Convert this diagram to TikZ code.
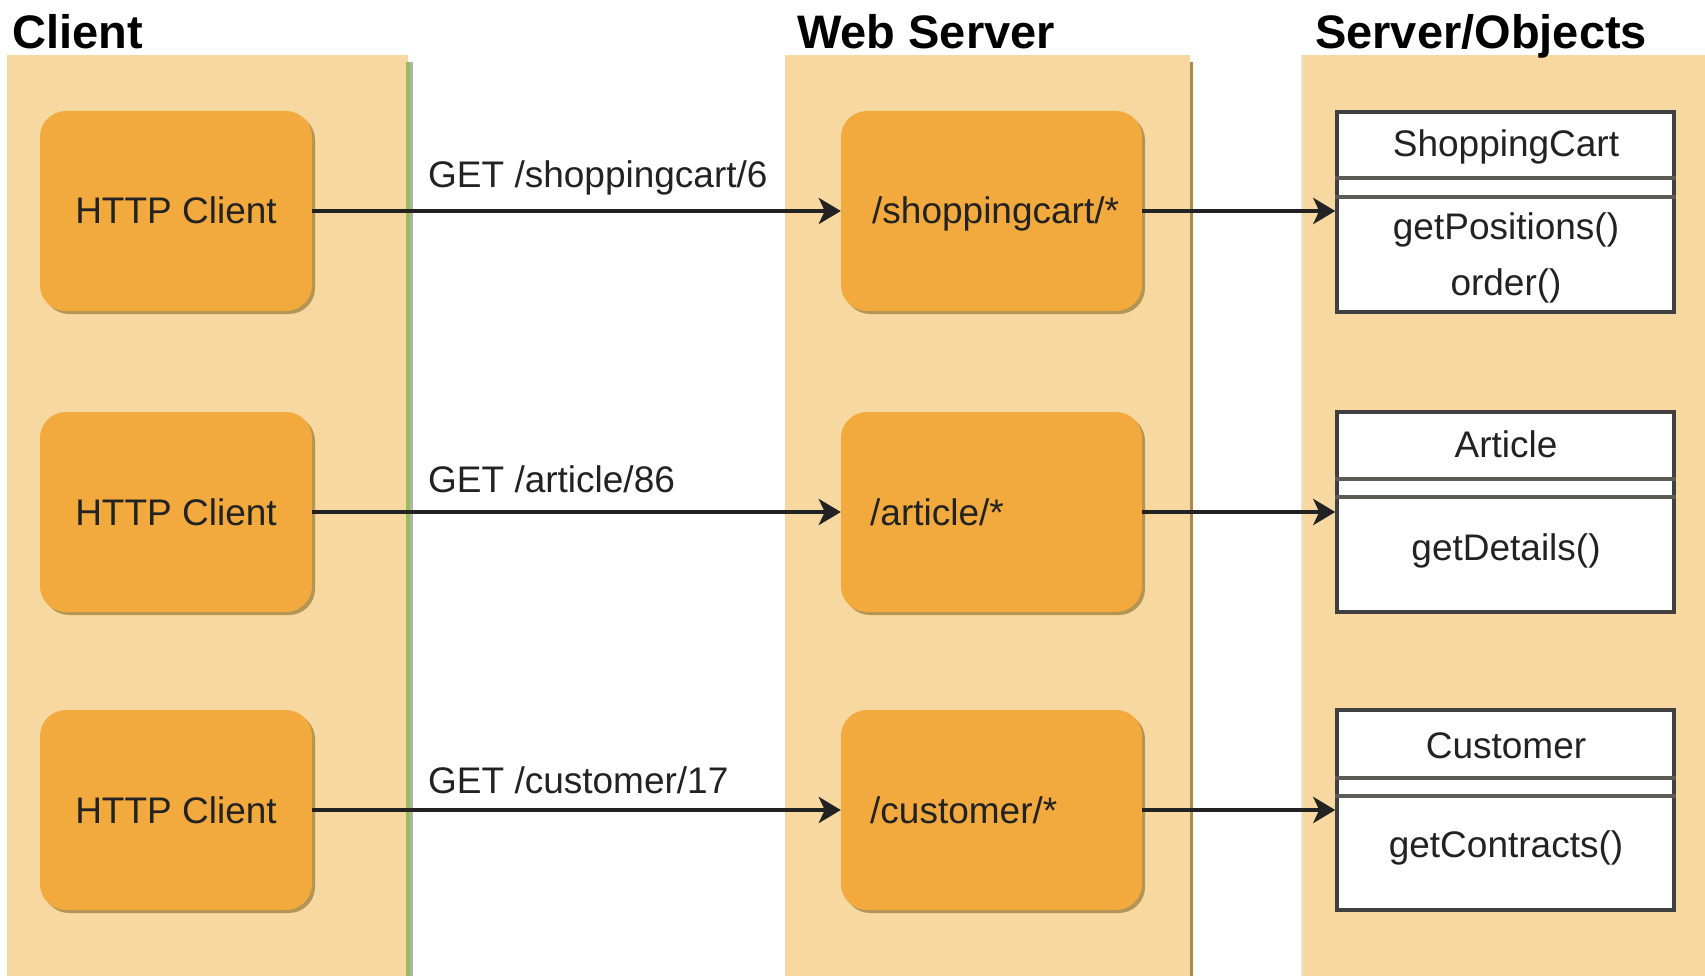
\documentclass[tikz,border=0pt]{standalone}
\usepackage{fontspec}
\setmainfont{Liberation Sans}
\usetikzlibrary{arrows.meta,shadows}
\definecolor{panel}{HTML}{F7D8A0}
\definecolor{boxc}{HTML}{F2AA3E}
\definecolor{shad}{HTML}{A88A4A}
\definecolor{ink}{HTML}{222222}
\definecolor{lanegreen}{HTML}{9BBB59}
\definecolor{classline}{HTML}{404040}
\definecolor{sepline}{HTML}{5E5A55}
\begin{document}
\begin{tikzpicture}[x=1pt,y=-1pt,
  lane/.style={rectangle, fill=panel, inner sep=0pt, minimum height=921pt},
  procbox/.style={rectangle, rounded corners=26pt, fill=boxc, inner sep=0pt, minimum height=200pt,
    drop shadow={shadow xshift=3pt, shadow yshift=-3pt, fill=shad, opacity=0.85}},
  classbox/.style={rectangle, fill=white, draw=classline, line width=3.5pt, inner sep=0pt,
    minimum width=337pt, minimum height=200pt,
    drop shadow={shadow xshift=2pt, shadow yshift=-2pt, fill=shad, opacity=0.7}},
  txt/.style={font=\fontsize{37}{40}\selectfont, text=ink, inner sep=0pt},
  ttl/.style={font=\fontsize{47}{52}\selectfont\bfseries, text=black, inner sep=0pt, anchor=base west},
  conn/.style={draw=ink, line width=4pt, -{Stealth[length=22pt,width=26pt,inset=6pt]}},
  sep/.style={draw=sepline, line width=3.5pt}
]
\useasboundingbox (0,0) rectangle (1705,976);
\fill[white] (0,0) rectangle (1705,976);

% lanes
\node[lane, minimum width=401pt] (clientlane) at (207.5,515.5) {};
\node[lane, minimum width=405pt] (weblane) at (987.5,515.5) {};
\node[lane, minimum width=403pt] (srvlane) at (1503.5,515.5) {};
\draw[black!30, line width=3pt] ([xshift=3.5pt,yshift=-7pt]clientlane.north east) -- ([xshift=3.5pt]clientlane.south east);
\draw[lanegreen, line width=3.5pt] ([yshift=-7pt]clientlane.north east) -- (clientlane.south east);
\draw[shad, line width=3.5pt] ([xshift=1.5pt,yshift=-7pt]weblane.north east) -- ([xshift=1.5pt]weblane.south east);
\draw[panel!60!gray!40, line width=1.5pt] (srvlane.north west) -- (srvlane.south west);

% titles
\node[ttl] (tclient) at (12,49) {Client};
\node[ttl] (tweb) at (797,49) {Web Server};
\node[ttl] (tsrv) at (1315,49) {Server/Objects};

% HTTP clients
\node[procbox, minimum width=272pt] (hc1) at (176,211) {};
\node[procbox, minimum width=272pt] (hc2) at (176,512) {};
\node[procbox, minimum width=272pt] (hc3) at (176,810) {};
\node[txt, anchor=base] (hct1) at (176,224) {HTTP Client};
\node[txt, anchor=base] (hct2) at (176,525) {HTTP Client};
\node[txt, anchor=base] (hct3) at (176,823) {HTTP Client};

% web server handlers
\node[procbox, minimum width=301pt] (ws1) at (991.5,211) {};
\node[procbox, minimum width=301pt] (ws2) at (991.5,512) {};
\node[procbox, minimum width=301pt] (ws3) at (991.5,810) {};
\node[txt, anchor=base west] (wst1) at (872,224) {/shoppingcart/*};
\node[txt, anchor=base west] (wst2) at (870,525) {/article/*};
\node[txt, anchor=base west] (wst3) at (870,823) {/customer/*};

% classes
\node[classbox] (c1) at (1505.5,212) {};
\node[classbox] (c2) at (1505.5,512) {};
\node[classbox] (c3) at (1505.5,810) {};
\draw[sep] (c1.west |- 0,178) -- (c1.east |- 0,178);
\draw[sep] (c1.west |- 0,197) -- (c1.east |- 0,197);
\draw[sep] (c2.west |- 0,479) -- (c2.east |- 0,479);
\draw[sep] (c2.west |- 0,497) -- (c2.east |- 0,497);
\draw[sep] (c3.west |- 0,778) -- (c3.east |- 0,778);
\draw[sep] (c3.west |- 0,796) -- (c3.east |- 0,796);
\node[txt, anchor=base] (c1n) at (1506,157) {ShoppingCart};
\node[txt, anchor=base] (c1m1) at (1506,240) {getPositions()};
\node[txt, anchor=base] (c1m2) at (1506,295) {order()};
\node[txt, anchor=base] (c2n) at (1506,457) {Article};
\node[txt, anchor=base] (c2m1) at (1506,560) {getDetails()};
\node[txt, anchor=base] (c3n) at (1506,758) {Customer};
\node[txt, anchor=base] (c3m1) at (1506,857) {getContracts()};

% connectors
\draw[conn] (hc1.east) -- (ws1.west);
\draw[conn] (hc2.east) -- (ws2.west);
\draw[conn] (hc3.east) -- (ws3.west);
\draw[conn] (ws1.east) -- (c1.west |- ws1.east);
\draw[conn] (ws2.east) -- (c2.west |- ws2.east);
\draw[conn] (ws3.east) -- (c3.west |- ws3.east);

% labels
\node[txt, anchor=base west] (l1) at (428,188) {GET /shoppingcart/6};
\node[txt, anchor=base west] (l2) at (428,492) {GET /article/86};
\node[txt, anchor=base west] (l3) at (428,793) {GET /customer/17};
\end{tikzpicture}
\end{document}
